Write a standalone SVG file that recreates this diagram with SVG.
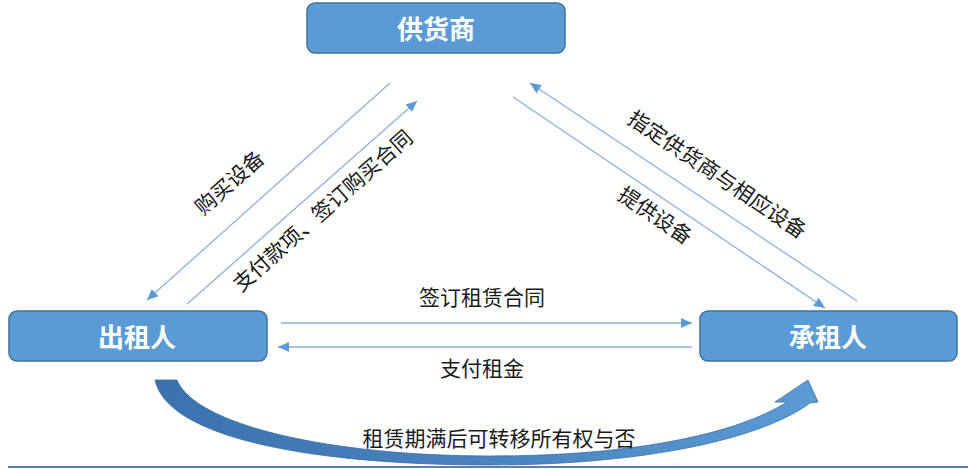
<svg xmlns="http://www.w3.org/2000/svg" width="968" height="469" viewBox="0 0 968 469">
<style>
.box{fill:#5B9BD5;stroke:#41719C;stroke-width:1.5}
.nt{font-family:"Noto Sans CJK SC","Noto Sans",sans-serif;font-size:26px;font-weight:bold;fill:#fff;text-anchor:middle}
.lb{font-family:"Noto Sans CJK SC","Noto Sans",sans-serif;font-size:21px;fill:#1a1a1a;text-anchor:middle}
.ln{stroke:#8FB0D8;stroke-width:1.3;fill:none;marker-end:url(#ah)}
</style>
<defs>
<marker id="ah" markerUnits="userSpaceOnUse" markerWidth="12" markerHeight="10" refX="11" refY="5" orient="auto">
<path d="M0,0 L11,5 L0,10 Z" fill="#5B9BD5"/>
</marker>
<linearGradient id="cg" x1="155" y1="0" x2="820" y2="0" gradientUnits="userSpaceOnUse">
<stop offset="0" stop-color="#3A72AE"/>
<stop offset="0.5" stop-color="#4A83BE"/>
<stop offset="1" stop-color="#5B9BD5"/>
</linearGradient>
</defs>
<rect width="968" height="469" fill="#fff"/>
<g id="supplier">
<rect class="box" x="307" y="3" width="258" height="50" rx="8"/>
<text class="nt" x="436" y="39">供货商</text>
</g>
<g id="lessor">
<rect class="box" x="9" y="311" width="258" height="50" rx="8"/>
<text class="nt" x="137" y="347">出租人</text>
</g>
<g id="lessee">
<rect class="box" x="700" y="311" width="257" height="50" rx="8"/>
<text class="nt" x="828" y="347">承租人</text>
</g>
<g id="connectors">
<line class="ln" x1="390" y1="83" x2="147" y2="300"/>
<line class="ln" x1="187" y1="304" x2="417" y2="101"/>
<line class="ln" x1="857" y1="301" x2="530" y2="83"/>
<line class="ln" x1="513" y1="97" x2="825" y2="308"/>
<line class="ln" x1="281" y1="323" x2="692" y2="323"/>
<line class="ln" x1="692" y1="347" x2="278" y2="347"/>
<path d="M155,380 L177,380 C195,425 330,456 490,456 C640,456 740,432 787,402 L775,402 L808,380 L818,402 L810,403 C760,440 640,465 490,465 C320,465 168,440 155,380 Z" fill="url(#cg)" stroke="#3B6EA5" stroke-width="0.8"/>
</g>
<g id="labels">
<text class="lb" transform="translate(230,183) rotate(-41.5)" y="7">购买设备</text>
<text class="lb" transform="translate(323,211) rotate(-41.5)" y="7">支付款项、签订购买合同</text>
<text class="lb" transform="translate(717,175) rotate(34)" y="7">指定供货商与相应设备</text>
<text class="lb" transform="translate(655,216) rotate(34)" y="7">提供设备</text>
<text class="lb" x="482" y="305">签订租赁合同</text>
<text class="lb" x="482" y="376">支付租金</text>
<text class="lb" x="499" y="446">租赁期满后可转移所有权与否</text>
</g>
<line x1="8" y1="467" x2="968" y2="467" stroke="#5B7DB8" stroke-width="2"/>
</svg>
